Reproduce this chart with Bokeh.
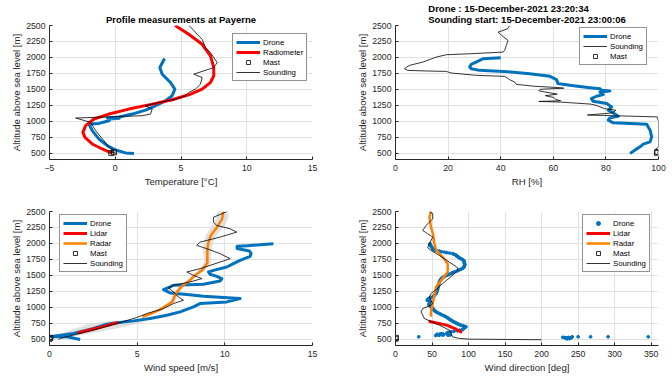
from bokeh.plotting import figure
from bokeh.layouts import row, column
from bokeh.models import Range1d, FixedTicker, Legend, LegendItem, Title
from bokeh.embed import file_html
from bokeh.resources import INLINE

# ---------------- data ----------------
# Temperature panel
temp_drone_h = [1982, 1841, 1737, 1607, 1503, 1398, 1320, 1242, 1174, 1112, 1065, 1052, 1045, 1035, 1008, 966, 956, 852, 721, 617, 549, 503, 495]
temp_drone_T = [3.75, 3.39, 3.57, 4.2, 4.53, 4.33, 3.82, 3.06, 2.3, 1.29, 0.3, -0.6, 0.3, -0.4, -0.48, -1.24, -2.0, -1.75, -1.24, -0.61, 0.03, 0.78, 1.42]
temp_radiometer_h = [497, 565, 643, 747, 826, 930, 1034, 1112, 1190, 1268, 1336, 1414, 1503, 1607, 1711, 1841, 2023, 2206, 2362, 2500]
temp_radiometer_T = [-0.23, -0.99, -1.75, -2.30, -2.46, -2.25, -1.62, -0.48, 1.04, 2.81, 4.33, 5.59, 6.61, 7.24, 7.49, 7.49, 7.24, 6.61, 5.59, 4.55]
temp_mast_h = [500, 515]
temp_mast_T = [-0.3, -0.1]
temp_sounding_h = [497, 513, 539, 591, 695, 852, 982, 1050, 1086, 1112, 1190, 1242, 1294, 1346, 1398, 1451, 1503, 1581, 1685, 1737, 1815, 1841, 1919, 2076, 2154, 2284, 2362, 2440, 2500]
temp_sounding_T = [0.15, -0.35, -0.10, -0.48, -0.86, -1.49, -1.87, -3.01, 2.05, 2.68, 2.81, 2.3, 3.32, 4.58, 5.34, 5.59, 6.10, 6.48, 6.61, 5.97, 7.11, 7.49, 7.75, 7.24, 6.86, 6.61, 6.23, 5.9, 5.6]

# Relative humidity panel
rh_drone_h = [1995, 1979, 1953, 1891, 1849, 1823, 1797, 1781, 1745, 1703, 1651, 1589, 1578, 1563, 1526, 1510, 1484, 1474, 1458, 1417, 1391, 1354, 1313, 1276, 1224, 1172, 1130, 1078, 1052, 1016, 974, 963, 953, 859, 755, 677, 641, 599, 547, 495]
rh_drone = [40.0, 33.3, 32.0, 28.8, 28.2, 28.8, 32.0, 40.9, 51.0, 58.7, 61.2, 61.8, 63.7, 66.3, 73.9, 77.7, 78.4, 81.5, 77.7, 79.0, 76.4, 74.5, 75.1, 80.3, 82.2, 80.9, 82.8, 84.7, 81.5, 80.9, 82.8, 89.2, 95.5, 96.8, 97.4, 96.8, 94.2, 93.0, 91.0, 89.2]
rh_sounding_h = [2500, 2448, 2396, 2328, 2266, 2187, 2109, 2083, 2057, 2042, 2005, 1927, 1875, 1823, 1797, 1787, 1781, 1755, 1719, 1703, 1651, 1615, 1578, 1547, 1528, 1518, 1500, 1477, 1450, 1425, 1400, 1372, 1340, 1320, 1310, 1300, 1268, 1250, 1198, 1172, 1130, 1097, 1068, 1000, 800, 600, 560, 520, 500]
rh_sounding = [43.4, 42.6, 39.0, 40.9, 42.8, 42.1, 41.5, 40.9, 28.2, 19.3, 15.5, 10.4, 5.3, 3.4, 4.7, 11.7, 19.3, 21.2, 30.7, 41.5, 43.4, 45.3, 45.9, 53.0, 61.5, 64.0, 55.0, 54.5, 58.0, 61.5, 57.0, 60.2, 61.0, 62.8, 54.5, 62.8, 74.2, 76.2, 79.4, 83.8, 82.5, 73.0, 99.5, 100.0, 100.0, 100.0, 99.0, 100.0, 99.5]
rh_mast_h = [505, 520]
rh_mast = [99.4, 99.6]

# Wind speed panel
ws_drone_h = [1995, 1965, 1955, 1920, 1880, 1840, 1797, 1734, 1682, 1630, 1578, 1552, 1516, 1484, 1448, 1411, 1359, 1344, 1318, 1276, 1224, 1198, 1172, 1135, 1083, 1057, 1005, 927, 875, 823, 786, 755, 734, 667, 589, 547, 537, 537, 495]
ws_drone = [12.77, 11.3, 10.7, 10.7, 11.4, 11.5, 11.44, 10.87, 10.49, 10.11, 9.35, 9.07, 9.16, 9.54, 9.83, 9.73, 8.78, 7.07, 6.88, 6.5, 6.88, 7.83, 8.78, 10.87, 10.11, 8.59, 8.21, 7.45, 6.69, 5.74, 4.79, 3.84, 3.27, 2.51, 1.37, 0.23, 0.1, 0.99, 1.75]
ws_lidar_h = [595, 650, 700, 760]
ws_lidar = [1.6, 2.4, 3.1, 3.9]
ws_lidar_band_h = [520, 560, 620, 680, 740, 785]
ws_lidar_lo = [0.2, 0.5, 1.0, 1.6, 2.2, 3.6]
ws_lidar_hi = [0.9, 1.8, 2.9, 4.0, 5.0, 5.5]
ws_radar_h = [850, 900, 963, 1083, 1214, 1318, 1422, 1500, 1578, 1693, 1786, 1891, 1995, 2125, 2255, 2385, 2500]
ws_radar = [5.3, 5.8, 6.3, 7.0, 7.2, 7.5, 8.0, 8.3, 8.7, 9.0, 9.0, 9.0, 9.05, 9.2, 9.55, 9.85, 9.9]
ws_radar_lo = [5.2, 5.7, 6.2, 6.85, 7.05, 7.35, 7.85, 8.15, 8.5, 8.8, 8.8, 8.75, 8.8, 8.9, 9.2, 9.5, 9.6]
ws_radar_hi = [5.4, 5.9, 6.4, 7.15, 7.35, 7.65, 8.15, 8.45, 8.9, 9.2, 9.2, 9.25, 9.3, 9.5, 9.9, 10.2, 10.2]
ws_mast_h = [505, 520]
ws_mast = [0.0, 0.05]
ws_sounding_h = [2500, 2464, 2411, 2333, 2281, 2229, 2177, 2099, 2021, 1969, 1917, 1839, 1760, 1708, 1604, 1552, 1500, 1448, 1396, 1344, 1302, 1240, 1161, 1109, 1057, 979, 901, 839, 745, 641, 578, 510, 495]
ws_sounding = [10.11, 9.83, 9.35, 9.35, 9.54, 10.3, 10.68, 9.73, 8.59, 8.4, 8.97, 9.73, 10.3, 9.73, 8.59, 7.83, 8.21, 8.69, 8.02, 7.07, 6.78, 7.07, 7.35, 7.64, 7.07, 6.5, 5.55, 4.98, 3.84, 2.51, 1.56, 0.61, 0.51]

# Wind direction panel (drone: individual samples)
wd_drone_h = [1995, 1985, 1975, 1965, 1950, 1935, 1917, 1905, 1895, 1885, 1878, 1870, 1862, 1855, 1848, 1840, 1830, 1820, 1810, 1800,
              1790, 1780, 1770, 1760, 1750, 1740, 1728, 1715, 1700, 1685, 1670, 1655, 1640, 1625, 1610, 1598, 1588, 1578, 1566, 1555,
              1545, 1535, 1525, 1512, 1500, 1488, 1475, 1462, 1450, 1435, 1420, 1405, 1390, 1370, 1350, 1330, 1310, 1292, 1275, 1260,
              1245, 1230, 1214, 1200, 1185, 1172, 1161, 1150, 1140, 1130, 1120, 1109, 1100, 1090, 1080, 1068, 1058, 1050, 1040, 1031,
              1020, 1010, 1000, 990, 979, 965, 950, 938, 927, 915, 900, 888, 875, 862, 849, 835, 820, 808, 797, 786,
              775, 765, 755, 745, 735, 727, 719, 710, 700, 693, 684, 675, 663, 651, 640, 630, 622, 615, 605, 590,
              580, 575, 573, 570, 568, 565, 563, 560, 560, 556, 585,
              536, 528, 524, 520, 516, 512, 508, 518, 525, 530, 505, 536, 536, 536, 536, 536]
wd_drone = [47.3, 47, 47.5, 48, 49, 50, 50.9, 52, 54, 57, 60, 63, 67, 70, 74, 78, 80, 82, 83, 84,
            85.5, 86.5, 88, 89.5, 91, 92.5, 93.5, 94, 94, 94.5, 95, 94.5, 94, 93.5, 92, 90, 88, 86, 84, 81,
            79, 77, 75.5, 73, 70.5, 68, 66, 64.5, 63, 62, 61, 60.5, 60, 59.5, 59, 58.5, 58, 57.7, 57.5, 57,
            56.5, 56, 55.5, 54, 53, 52, 50.9, 48, 46.5, 45, 44, 43.5, 45, 47, 48, 48.6, 47.5, 46, 46, 46.4,
            47.5, 48.5, 49.5, 50.5, 50.9, 52, 53, 54.5, 55.5, 57.5, 60, 62, 64.5, 67, 69.1, 71, 73, 74.5, 75.9, 77.5,
            79, 81, 82.7, 84, 86, 87.5, 89.5, 92, 94.5, 96.4, 95, 94, 93, 91.8, 88, 85, 80, 75.9, 72, 70,
            65, 57, 60, 66, 58, 75, 64.5, 60, 72, 55, 62,
            31.8, 229, 232, 234, 236, 233, 238, 240, 237, 241, 235, 242, 250, 267, 291, 346]
wd_lidar_h = [781, 719, 660, 604]
wd_lidar = [45.5, 70, 82, 91]
wd_radar_h = [2500, 2411, 2255, 2125, 1995, 1901, 1786, 1682, 1552, 1448, 1318, 1187, 1057, 927, 849]
wd_radar = [48.6, 46.4, 48.6, 51.8, 53.2, 55.5, 64.5, 71.4, 71.4, 64.5, 55.5, 53.2, 50.9, 48.6, 48.6]
wd_mast_h = [505, 520]
wd_mast = [0.0, 0.5]
wd_sounding_h = [2500, 2464, 2385, 2281, 2203, 2151, 2099, 1995, 1932, 1891, 1812, 1708, 1620, 1578, 1500, 1370, 1276, 1214, 1161, 1057, 1031, 979, 927, 823, 787, 719, 641, 536, 510, 500, 490]
wd_sounding = [46.4, 51.0, 51.0, 41.8, 37.3, 44.0, 50.9, 46.4, 44.0, 48.6, 60.0, 73.6, 85.0, 85.0, 78.2, 64.5, 55.5, 48.6, 46.4, 50.9, 48.6, 37.3, 35.0, 39.5, 46.4, 60.0, 73.6, 78.2, 87.3, 101.0, 200.0]

alt_ticks = [500, 750, 1000, 1250, 1500, 1750, 2000, 2250, 2500]

# ---------------- style ----------------
FONT = "Liberation Sans"
AX = "#262626"
BLUE = "#0072BD"
RED = "#FF0000"
ORANGE = "#FF8000"
GRID = "#e1e1e1"


def make_fig(width, height, xr, xticks, xlabel, mbl, mbr, mbt, mbb):
    p = figure(width=width, height=height, x_range=Range1d(*xr), y_range=Range1d(400, 2500),
               output_backend="svg", toolbar_location=None,
               min_border_left=mbl, min_border_right=mbr, min_border_top=mbt, min_border_bottom=mbb)
    p.outline_line_color = None
    p.background_fill_color = "white"
    p.xaxis.ticker = FixedTicker(ticks=xticks)
    p.yaxis.ticker = FixedTicker(ticks=alt_ticks)
    p.xaxis.axis_label = xlabel
    p.yaxis.axis_label = "Altitude above sea level [m]"
    for ax in (p.xaxis[0], p.yaxis[0]):
        ax.axis_line_color = AX
        ax.axis_line_width = 1
        ax.major_tick_line_color = AX
        ax.major_tick_in = 3
        ax.major_tick_out = 0
        ax.minor_tick_line_color = None
        ax.major_label_text_font = FONT
        ax.major_label_text_font_size = "8.7px"
        ax.major_label_text_color = AX
        ax.axis_label_text_font = FONT
        ax.axis_label_text_font_size = "9.6px"
        ax.axis_label_text_font_style = "normal"
        ax.axis_label_text_color = AX
    p.xaxis.major_label_standoff = 5
    p.xaxis.axis_label_standoff = 2
    p.yaxis.major_label_standoff = 4
    p.yaxis.axis_label_standoff = 1
    p.xgrid.grid_line_color = GRID
    p.ygrid.grid_line_color = GRID
    p.xgrid.ticker = FixedTicker(ticks=xticks)
    p.ygrid.ticker = FixedTicker(ticks=alt_ticks)
    return p


def add_legend(p, items, loc):
    lg = Legend(items=items, location=loc, label_text_font=FONT, label_text_font_size="7.8px",
                label_text_color="black", glyph_width=24, glyph_height=10, label_height=10,
                spacing=0, padding=3, margin=0, label_standoff=3,
                border_line_color=AX, border_line_width=0.6, background_fill_color="white",
                background_fill_alpha=1)
    p.add_layout(lg)


def add_title(p, text):
    p.add_layout(Title(text=text, align="center", text_font=FONT, text_font_size="9.5px",
                       text_font_style="bold", text_color="black", text_line_height=1.0,
                       standoff=1), "above")


# ---------------- panel 1: temperature ----------------
p1 = make_fig(340, 192, (-5, 15), [-5, 0, 5, 10, 15], "Temperature [°C]", 49, 28, 25, 33)
r_d = p1.line(temp_drone_T, temp_drone_h, line_color=BLUE, line_width=3, line_join="round")
r_r = p1.line(temp_radiometer_T, temp_radiometer_h, line_color=RED, line_width=3, line_join="round")
r_m = p1.scatter(temp_mast_T, temp_mast_h, marker="square", size=5, fill_color=None, line_color="black", line_width=0.8)
r_s = p1.line(temp_sounding_T, temp_sounding_h, line_color="black", line_width=0.8)
add_legend(p1, [LegendItem(label="Drone", renderers=[r_d]), LegendItem(label="Radiometer", renderers=[r_r]),
                LegendItem(label="Mast", renderers=[r_m]), LegendItem(label="Sounding", renderers=[r_s])], (183, 78))
add_title(p1, "Profile measurements at Payerne")

# ---------------- panel 2: relative humidity ----------------
p2 = make_fig(332, 192, (0, 100), [0, 20, 40, 60, 80, 100], "RH [%]", 55, 14, 25, 33)
r_d = p2.line(rh_drone, rh_drone_h, line_color=BLUE, line_width=3, line_join="round")
r_s = p2.line(rh_sounding, rh_sounding_h, line_color="black", line_width=0.8)
r_m = p2.scatter(rh_mast, rh_mast_h, marker="square", size=5, fill_color=None, line_color="black", line_width=0.8)
add_legend(p2, [LegendItem(label="Drone", renderers=[r_d]), LegendItem(label="Sounding", renderers=[r_s]),
                LegendItem(label="Mast", renderers=[r_m])], (184, 94))
add_title(p2, "Drone : 15-December-2021 23:20:34\nSounding start: 15-December-2021 23:00:06")

# ---------------- panel 3: wind speed ----------------
p3 = make_fig(340, 186, (0, 15), [0, 5, 10, 15], "Wind speed [m/s]", 49, 28, 19, 33)
p3.harea(y=ws_lidar_band_h, x1=ws_lidar_lo, x2=ws_lidar_hi, fill_color="#d4d4d4", fill_alpha=0.7)
p3.harea(y=ws_radar_h, x1=ws_radar_lo, x2=ws_radar_hi, fill_color="#d4d4d4", fill_alpha=0.7)
r_d = p3.line(ws_drone, ws_drone_h, line_color=BLUE, line_width=3, line_join="round")
r_l = p3.line(ws_lidar, ws_lidar_h, line_color=RED, line_width=3, line_join="round")
r_r = p3.line(ws_radar, ws_radar_h, line_color=ORANGE, line_width=2.5, line_join="round")
r_m = p3.scatter(ws_mast, ws_mast_h, marker="square", size=5, fill_color=None, line_color="black", line_width=0.8)
r_s = p3.line(ws_sounding, ws_sounding_h, line_color="black", line_width=0.8)
add_legend(p3, [LegendItem(label="Drone", renderers=[r_d]), LegendItem(label="Lidar", renderers=[r_l]),
                LegendItem(label="Radar", renderers=[r_r]), LegendItem(label="Mast", renderers=[r_m]),
                LegendItem(label="Sounding", renderers=[r_s])], (10, 73))

# ---------------- panel 4: wind direction ----------------
p4 = make_fig(332, 186, (0, 360), [0, 50, 100, 150, 200, 250, 300, 350], "Wind direction [deg]", 55, 14, 19, 33)
r_d = p4.scatter(wd_drone, wd_drone_h, marker="circle", size=2.8, fill_color=BLUE, line_color=BLUE)
r_l = p4.line(wd_lidar, wd_lidar_h, line_color=RED, line_width=3, line_join="round")
r_r = p4.line(wd_radar, wd_radar_h, line_color=ORANGE, line_width=2.5, line_join="round")
r_m = p4.scatter(wd_mast, wd_mast_h, marker="square", size=5, fill_color=None, line_color="black", line_width=0.8)
r_s = p4.line(wd_sounding, wd_sounding_h, line_color="black", line_width=0.8)
add_legend(p4, [LegendItem(label="Drone", renderers=[r_d]), LegendItem(label="Lidar", renderers=[r_l]),
                LegendItem(label="Radar", renderers=[r_r]), LegendItem(label="Mast", renderers=[r_m]),
                LegendItem(label="Sounding", renderers=[r_s])], (187, 73))

layout = column(row(p1, p2), row(p3, p4))

open("out.html", "w").write(file_html(layout, INLINE))
